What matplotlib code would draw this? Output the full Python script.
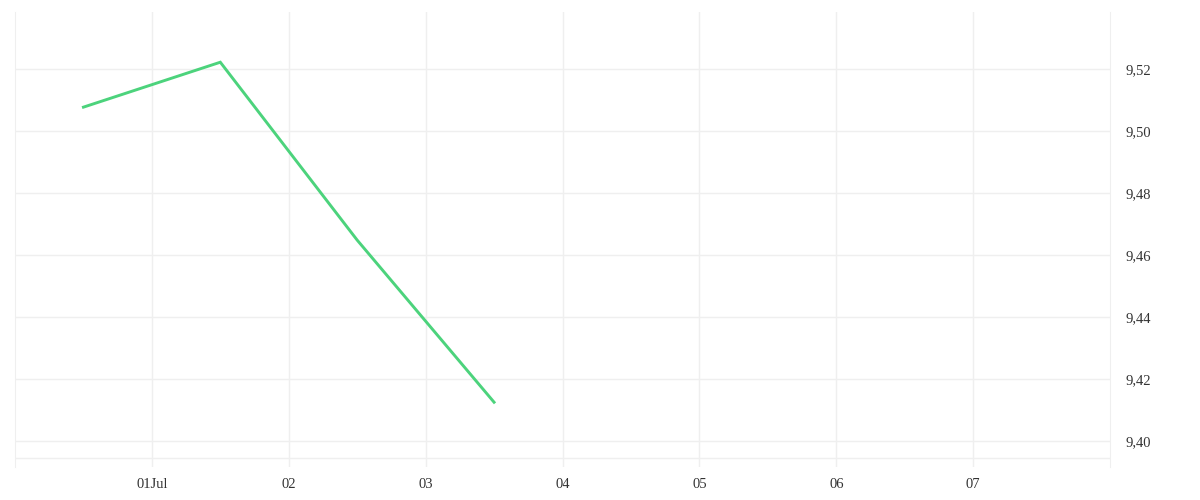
import pandas as pd
import matplotlib.pyplot as plt

# values
dates = ['2024-06-30 12:00', '2024-07-01 12:00', '2024-07-02 12:00', '2024-07-03 12:00']
values = [9.5077, 9.5222, 9.4648, 9.4125]
tick_days = ['2024-07-01', '2024-07-02', '2024-07-03', '2024-07-04',
             '2024-07-05', '2024-07-06', '2024-07-07']
tick_labels = ['01Jul', '02', '03', '04', '05', '06', '07']
y_ticks = [9.40, 9.42, 9.44, 9.46, 9.48, 9.50, 9.52]

plt.rcParams['font.family'] = ['Liberation Serif', 'DejaVu Serif']
grid_col = '#efefef'

fig = plt.figure(figsize=(12, 5), dpi=100)
ax = fig.add_axes([15/1200, 33/500, 1095/1200, 455/500])

x = pd.to_datetime(dates)
ax.plot(x, values, color='#4cd37c', lw=2.1, solid_joinstyle='miter')

ax.set_xlim(pd.Timestamp('2024-06-30'), pd.Timestamp('2024-07-08'))
ax.set_ylim(9.3916, 9.5384)
ax.axhline(9.3945, color=grid_col, lw=1)

ax.set_xticks(pd.to_datetime(tick_days))
ax.set_xticklabels(tick_labels)
ax.set_yticks(y_ticks)
ax.set_yticklabels([f'{v:.2f}'.replace('.', ',') for v in y_ticks])
ax.yaxis.tick_right()
ax.tick_params(length=0, labelsize=10.5, colors='#333333')
ax.tick_params(axis='y', pad=11)
ax.tick_params(axis='x', pad=8)

ax.grid(True, color=grid_col, lw=1)
for side in ['top', 'bottom']:
    ax.spines[side].set_visible(False)
for side in ['left', 'right']:
    ax.spines[side].set_color(grid_col)

plt.savefig('out.png')
